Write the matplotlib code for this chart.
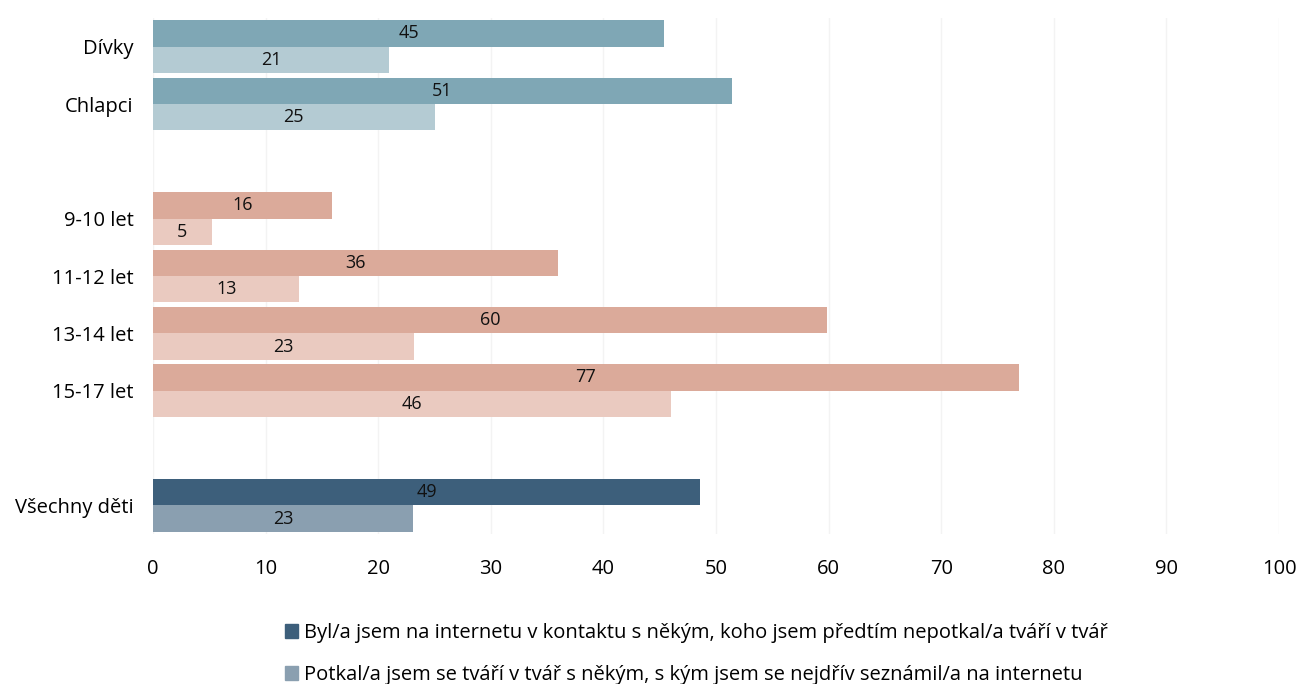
import matplotlib
matplotlib.use("Agg")
import matplotlib.pyplot as plt
from matplotlib.patches import Patch

plt.rcParams['font.family'] = ['Open Sans', 'DejaVu Sans']

# Categories top to bottom (None = empty spacer row)
categories = ["Dívky", "Chlapci", None, "9-10 let", "11-12 let", "13-14 let", "15-17 let", None, "Všechny děti"]
groups = ["sex", "sex", None, "age", "age", "age", "age", None, "all"]

contact = [45.4, 51.4, None, 15.9, 36.0, 59.9, 76.9, None, 48.6]
met = [21.0, 25.0, None, 5.2, 13.0, 23.2, 46.0, None, 23.1]

legend_labels = [
    "Byl/a jsem na internetu v kontaktu s někým, koho jsem předtím nepotkal/a tváří v tvář",
    "Potkal/a jsem se tváří v tvář s někým, s kým jsem se nejdřív seznámil/a na internetu",
]

colors = {
    "sex": ("#7FA7B5", "#B4CBD3"),
    "age": ("#DBAA9A", "#EACAC0"),
    "all": ("#3D5F7B", "#8A9FB0"),
}

fig = plt.figure(figsize=(12.99, 6.84), dpi=100)
ax = fig.add_axes([153 / 1299, 1 - 534 / 684, (1279 - 153) / 1299, (534 - 18) / 684])

h = 0.462
for i, (cat, g) in enumerate(zip(categories, groups)):
    if cat is None:
        continue
    c_dark, c_light = colors[g]
    b1 = ax.barh(i - h / 2, contact[i], height=h, color=c_dark, zorder=2)
    b2 = ax.barh(i + h / 2, met[i], height=h, color=c_light, zorder=2)
    ax.bar_label(b1, labels=[f"{contact[i]:.0f}"], label_type="center", fontsize=13, color="#111111")
    ax.bar_label(b2, labels=[f"{met[i]:.0f}"], label_type="center", fontsize=13, color="#111111")

ax.set_ylim(len(categories) - 0.5, -0.5)
ax.set_xlim(0, 100)
ax.set_yticks([i for i, c in enumerate(categories) if c is not None])
ax.set_yticklabels([c for c in categories if c is not None], fontsize=14.5)
ax.set_xticks(range(0, 101, 10))
ax.tick_params(axis="x", labelsize=14.5, length=0, pad=18)
ax.tick_params(axis="y", length=0, pad=14)
ax.grid(axis="x", color="#F3F3F3", linewidth=1, zorder=0)
for s in ax.spines.values():
    s.set_visible(False)

handles = [Patch(color="#3D5F7B"), Patch(color="#8A9FB0")]
fig.legend(handles, legend_labels, loc="upper left", bbox_to_anchor=(285 / 1299, 1 - 623 / 684),
           frameon=False, fontsize=14.5, handlelength=0.65, handleheight=0.65,
           handletextpad=0.3, labelspacing=1.1, borderaxespad=0, borderpad=0)

fig.savefig("out.png", dpi=100)
